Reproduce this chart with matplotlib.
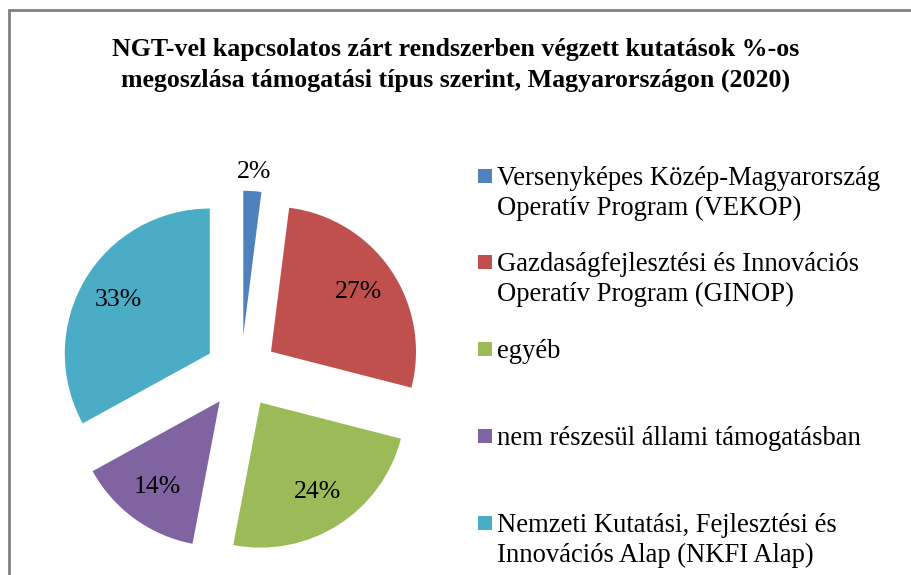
import matplotlib
matplotlib.use('Agg')
import numpy as np
import matplotlib.pyplot as plt
from matplotlib.patches import Rectangle

plt.rcParams['font.family'] = ['Liberation Serif', 'DejaVu Serif']

title_lines = ['NGT-vel kapcsolatos zárt rendszerben végzett kutatások %-os',
               'megoszlása támogatási típus szerint, Magyarországon (2020)']
categories = ['Versenyképes Közép-Magyarország\nOperatív Program (VEKOP)',
              'Gazdaságfejlesztési és Innovációs\nOperatív Program (GINOP)',
              'egyéb',
              'nem részesül állami támogatásban',
              'Nemzeti Kutatási, Fejlesztési és\nInnovációs Alap (NKFI Alap)']
shares = [2, 27, 24, 14, 33]
colors = ['#4F81BD', '#C0504D', '#9BBB59', '#8064A2', '#4BACC6']

W, H = 911, 575
fig = plt.figure(figsize=(W / 100, H / 100), dpi=100)

# chart area frame (right and bottom edges are cut off in the original)
fig.patches.append(Rectangle((9 / W, -0.05), 1.0, 1 - 9.5 / H + 0.05,
                             transform=fig.transFigure, fill=False,
                             edgecolor='#808080', linewidth=2))

# title
for i, line in enumerate(title_lines):
    fig.text(456 / W, 1 - (56 + 31 * i) / H, line, ha='center', va='baseline',
             fontsize=18.6, fontweight='bold')

# pie: centre at (241, 372) px, radius 145 px
half = 200
ax = fig.add_axes([(241 - half) / W, 1 - (372 + half) / H, 2 * half / W, 2 * half / H])
lim = half / 145

wedges, texts, pcts = ax.pie(shares, colors=colors, startangle=90, counterclock=False,
                             explode=[0.25] * len(shares), autopct='%.0f%%',
                             pctdistance=0.73, textprops={'fontsize': 18.5},
                             radius=1, frame=True)
ax.axis('off')
ax.set_xlim(-lim, lim)
ax.set_ylim(-lim, lim)

# small slice label sits outside the slice
w0 = wedges[0]
mid = np.deg2rad((w0.theta1 + w0.theta2) / 2)
cx, cy = w0.center
pcts[0].set_position((cx + 1.13 * np.cos(mid), cy + 1.13 * np.sin(mid)))

# legend drawn by hand so the marker sits at the first line
first_baselines = [185, 271, 358, 445, 532]
for lab, col, yb in zip(categories, colors, first_baselines):
    fig.patches.append(Rectangle((478 / W, 1 - (yb - 2) / H), 14 / W, 14 / H,
                                 transform=fig.transFigure, facecolor=col,
                                 edgecolor='none'))
    for j, part in enumerate(lab.split('\n')):
        fig.text(497 / W, 1 - (yb + 30 * j) / H, part, ha='left', va='baseline',
                 fontsize=19.2)

fig.savefig('out.png', dpi=100, facecolor='white')
